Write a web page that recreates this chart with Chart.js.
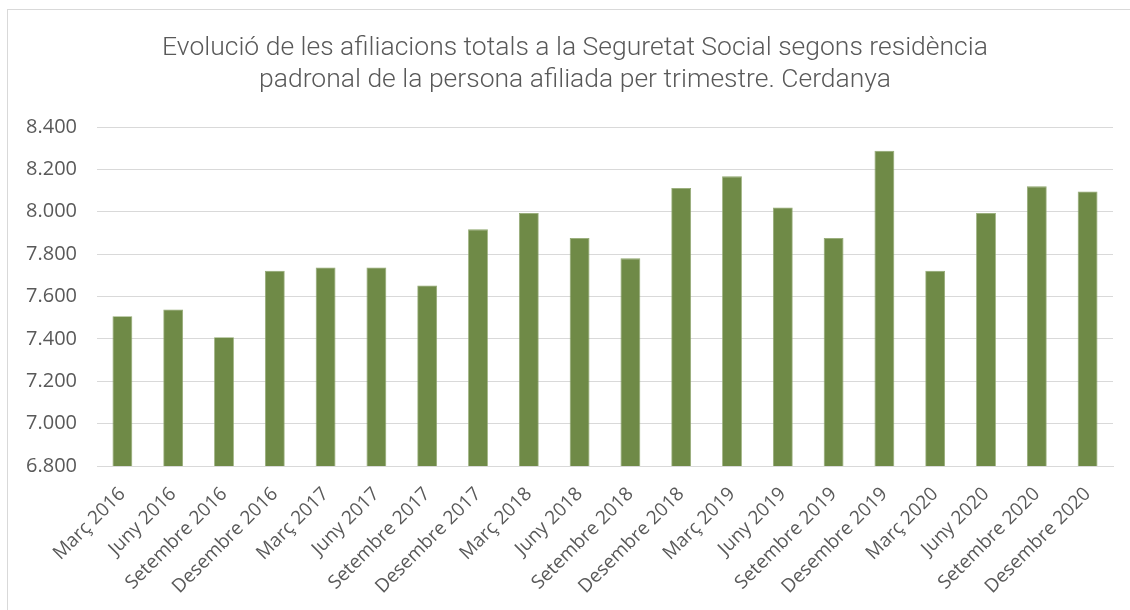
<!DOCTYPE html>
<html>
<head>
<meta charset="utf-8">
<script src="https://cdn.jsdelivr.net/npm/chart.js@4"></script>
<style>
  body { margin: 0; background: #fff; }
  #wrap { position: relative; width: 1130px; height: 610px; overflow: hidden; }
  #frame { position: absolute; left: 7px; top: 9px; width: 1140px; height: 620px; border: 1px solid #D9D9D9; box-sizing: border-box; }
  canvas { position: absolute; left: 0; top: 0; }
</style>
</head>
<body>
<div id="wrap">
  <div id="frame"></div>
  <canvas id="afiliacionsChart" width="1130" height="610"></canvas>
</div>
<script>
// Trimestres
const trimestres = [
    'Març 2016', 'Juny 2016', 'Setembre 2016', 'Desembre 2016',
    'Març 2017', 'Juny 2017', 'Setembre 2017', 'Desembre 2017',
    'Març 2018', 'Juny 2018', 'Setembre 2018', 'Desembre 2018',
    'Març 2019', 'Juny 2019', 'Setembre 2019', 'Desembre 2019',
    'Març 2020', 'Juny 2020', 'Setembre 2020', 'Desembre 2020'
];
// Afiliacions totals (llegides del gràfic)
const afiliacions = [
    7507, 7539, 7408, 7722,
    7737, 7737, 7652, 7917,
    7994, 7876, 7780, 8112,
    8167, 8020, 7876, 8288,
    7722, 7994, 8120, 8096
];
const titol = [
    'Evolució de les afiliacions totals a la Seguretat Social segons residència',
    'padronal de la persona afiliada per trimestre. Cerdanya'
];
const eixMin = 6800;
const eixMax = 8400;
const eixPas = 200;

const textColor = '#595959';
const gridColor = '#D9D9D9';

const fmt = v => String(v).replace(/\B(?=(\d{3})+(?!\d))/g, '.');

// Títol centrat sobre tot el requadre del gràfic
const titolPlugin = {
    id: 'titolCentrat',
    afterDraw(chart) {
        const c = chart.ctx;
        c.save();
        c.fillStyle = textColor;
        c.font = '300 26.5px Roboto';
        c.textAlign = 'center';
        c.textBaseline = 'middle';
        titol.forEach((linia, i) => c.fillText(linia, 575, 48 + i * 32));
        c.restore();
    }
};

const ctx = document.getElementById('afiliacionsChart').getContext('2d');
new Chart(ctx, {
    type: 'bar',
    data: {
        labels: trimestres,
        datasets: [{
            label: 'Afiliacions',
            data: afiliacions,
            backgroundColor: '#6F8A47',
            borderColor: '#8EA66C',
            borderWidth: 0.8,
            barPercentage: 0.39,
            categoryPercentage: 1
        }]
    },
    plugins: [titolPlugin],
    options: {
        responsive: false,
        animation: false,
        layout: { padding: { left: 0, right: 17, top: 127, bottom: 0 } },
        plugins: {
            legend: { display: false },
            tooltip: { enabled: false },
            title: { display: false }
        },
        scales: {
            x: {
                grid: { display: false, drawTicks: false },
                border: { color: gridColor, width: 1 },
                ticks: {
                    color: textColor,
                    font: { family: 'Open Sans', size: 19 },
                    minRotation: 45,
                    maxRotation: 45,
                    padding: 17,
                    autoSkip: false
                },
                afterFit: s => { s.height = 144; }
            },
            y: {
                min: eixMin,
                max: eixMax,
                grid: { color: gridColor, lineWidth: 1, drawTicks: false },
                border: { display: false },
                ticks: {
                    stepSize: eixPas,
                    color: textColor,
                    font: { family: 'Open Sans', size: 20 },
                    padding: 20,
                    callback: v => fmt(v)
                },
                afterFit: s => { s.width = 97; }
            }
        }
    }
});
</script>
</body>
</html>
